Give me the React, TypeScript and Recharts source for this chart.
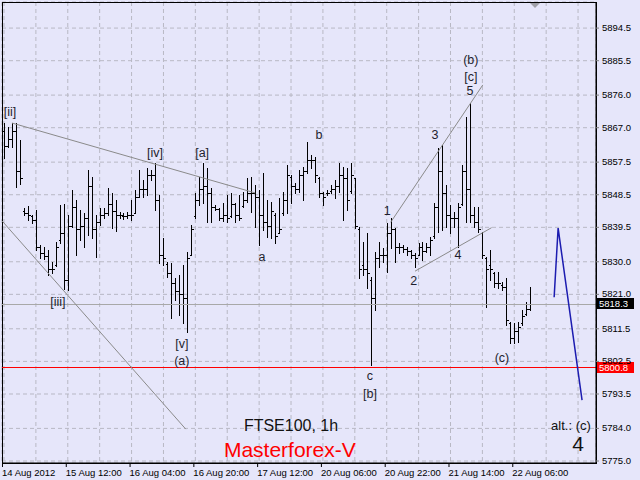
import { ComposedChart, Bar, Line, XAxis, YAxis, CartesianGrid, ReferenceLine, ReferenceDot, ReferenceArea } from "recharts"

// hourly FTSE100 bars (index 0 = 14 Aug 2012)
const highs = [
  5868.3, 5867.2, 5868.3, 5868.3, 5863.6, 5844.8, 5845.4, 5842.9, 5844.3, 5834.6,
  5834.1, 5833.2, 5829.9, 5835.4, 5845.6, 5845.9, 5842.9, 5849.8, 5847.0, 5844.3,
  5843.4, 5855.3, 5853.4, 5842.9, 5844.8, 5844.8, 5850.3, 5849.0, 5847.0, 5843.7,
  5843.4, 5843.7, 5847.0, 5849.8, 5855.3, 5852.5, 5855.9, 5855.3, 5857.2, 5848.4,
  5836.5, 5829.9, 5829.6, 5825.5, 5826.3, 5829.1, 5832.7, 5840.1, 5849.0, 5853.4,
  5857.2, 5855.9, 5850.3, 5845.6, 5844.8, 5846.2, 5848.4, 5849.0, 5846.2, 5848.4,
  5849.2, 5853.1, 5853.4, 5851.2, 5849.8, 5854.5, 5847.0, 5846.5, 5843.4, 5847.6,
  5849.2, 5856.7, 5853.9, 5851.7, 5855.3, 5856.1, 5863.0, 5859.5, 5858.9, 5853.4,
  5849.2, 5849.8, 5851.2, 5852.5, 5857.2, 5856.1, 5855.9, 5857.2, 5853.1, 5839.6,
  5835.4, 5837.9, 5825.8, 5832.7, 5835.4, 5833.8, 5840.7, 5842.1, 5839.3, 5835.2,
  5834.6, 5834.1, 5833.2, 5832.4, 5835.2, 5835.4, 5835.2, 5836.8, 5846.2, 5861.4,
  5862.2, 5851.2, 5845.6, 5843.7, 5846.2, 5856.7, 5869.9, 5873.8, 5845.1, 5845.1,
  5838.2, 5831.3, 5833.2, 5827.2, 5827.2, 5824.4, 5825.5, 5813.4, 5813.1, 5813.4,
  5816.7, 5818.9, 5823.0,
]
const lows = [
  5858.6, 5861.7, 5861.7, 5850.6, 5851.4, 5842.9, 5841.5, 5840.7, 5833.2, 5831.0,
  5830.7, 5826.3, 5826.9, 5828.8, 5835.2, 5822.5, 5822.2, 5839.6, 5831.8, 5836.0,
  5834.1, 5837.4, 5836.5, 5831.3, 5840.1, 5842.1, 5842.9, 5839.3, 5838.5, 5842.1,
  5841.8, 5842.1, 5841.5, 5843.4, 5847.8, 5847.8, 5848.4, 5852.5, 5844.3, 5829.6,
  5829.1, 5825.8, 5814.5, 5819.4, 5815.3, 5813.1, 5810.6, 5831.8, 5842.1, 5845.6,
  5846.2, 5841.0, 5841.0, 5844.3, 5841.5, 5841.2, 5841.0, 5842.3, 5841.0, 5841.5,
  5845.1, 5846.5, 5843.7, 5839.6, 5834.6, 5838.7, 5836.8, 5836.5, 5835.2, 5837.9,
  5842.9, 5843.4, 5846.2, 5849.0, 5849.2, 5847.0, 5854.5, 5855.9, 5852.0, 5847.8,
  5845.6, 5848.4, 5849.0, 5847.6, 5849.2, 5841.5, 5844.3, 5849.0, 5839.3, 5825.5,
  5826.3, 5822.7, 5801.5, 5816.7, 5828.5, 5829.9, 5827.2, 5833.8, 5829.9, 5832.4,
  5832.7, 5831.8, 5831.0, 5828.5, 5831.8, 5830.5, 5832.7, 5831.8, 5836.5, 5838.2,
  5838.8, 5839.6, 5837.9, 5839.6, 5834.1, 5845.6, 5841.0, 5841.0, 5839.6, 5838.2,
  5831.0, 5817.5, 5824.9, 5823.0, 5822.7, 5822.2, 5812.5, 5807.6, 5807.6, 5807.8,
  5812.5, 5815.3, 5816.7,
]
const opens = [
  5866, 5862, 5864, 5866, 5855, 5844, 5843.5, 5842.5, 5841.5, 5834,
  5832.5, 5831.5, 5828, 5829, 5836, 5838, 5825, 5840, 5845, 5839,
  5840, 5842, 5851, 5839, 5841, 5843, 5843.5, 5846, 5844, 5843,
  5842.5, 5842.5, 5843, 5843.5, 5848, 5850, 5850, 5854, 5854, 5847,
  5832, 5829.5, 5827, 5824, 5822, 5821, 5820, 5832, 5842.5, 5847,
  5850, 5851, 5849, 5845, 5844.5, 5842, 5843, 5842.5, 5846, 5843,
  5845.5, 5847, 5849, 5849, 5848, 5843, 5841, 5840, 5843, 5838,
  5843.5, 5847, 5853.5, 5851, 5850, 5854, 5855, 5858, 5858, 5853,
  5849, 5849, 5849.5, 5850, 5851, 5854, 5853, 5849.5, 5853, 5839,
  5829, 5828, 5825, 5820, 5831, 5832, 5832, 5838, 5839, 5834,
  5834, 5833.5, 5833, 5832, 5832, 5834, 5833, 5834, 5837, 5845,
  5855, 5849, 5843, 5842, 5842, 5846, 5855, 5850, 5843, 5841,
  5838, 5831, 5829, 5827, 5824, 5823.5, 5823, 5813, 5809, 5811,
  5813, 5815.5, 5817,
]
const closes = [
  5862, 5864, 5866, 5855, 5853, 5843.5, 5843, 5841.5, 5834, 5832.5,
  5831.5, 5828, 5828, 5834, 5838, 5825, 5840, 5845, 5839, 5840,
  5842, 5851, 5839, 5841, 5843, 5843.5, 5846, 5844, 5843, 5843,
  5842.5, 5843, 5843, 5848, 5850, 5850, 5854, 5854, 5847, 5832,
  5831, 5827, 5824, 5822, 5821, 5820, 5831, 5839, 5847, 5850,
  5851, 5849, 5845, 5844.5, 5842, 5843, 5842, 5846, 5843, 5842,
  5847, 5849, 5849, 5848, 5843, 5841, 5840, 5844, 5837, 5839,
  5847, 5854, 5851, 5850, 5854, 5855, 5858, 5858, 5854, 5849,
  5848, 5849, 5850, 5851, 5854, 5853, 5847, 5854, 5840, 5828,
  5828, 5827, 5820, 5831, 5832, 5832, 5838, 5839, 5834, 5834,
  5833.5, 5833, 5832, 5831, 5834, 5833, 5834, 5836, 5845, 5855,
  5849, 5843, 5842, 5842, 5845, 5855, 5850, 5843, 5841, 5839,
  5832, 5828, 5828, 5824, 5824, 5823, 5814, 5809, 5811, 5812,
  5815, 5817, 5818.3,
]

// blue projection drawn to the right of the last bar
const projIndex = [138, 139, 145]
const projPrice = [5820.2, 5839.3, 5791.8]

const timeLabels = [
  "14 Aug 2012", "15 Aug 12:00", "16 Aug 04:00", "16 Aug 20:00", "17 Aug 12:00",
  "20 Aug 06:00", "20 Aug 22:00", "21 Aug 14:00", "22 Aug 06:00",
]
const priceTicks = [
  5775.0, 5784.0, 5793.5, 5802.5, 5811.5, 5821.0, 5830.0,
  5839.5, 5848.5, 5857.5, 5867.0, 5876.0, 5885.5, 5894.5,
]
const bidPrice = 5818.3
const levelPrice = 5800.8

// wave counts: [text, bar index, price]
const waveLabels: [string, number, number][] = [
  ["[ii]", 1.5, 5871.3], ["[iii]", 13.5, 5818.9], ["[iv]", 37.9, 5860.0],
  ["[v]", 44.6, 5807.3], ["(a)", 44.6, 5802.6], ["[a]", 49.7, 5860.0],
  ["a", 64.7, 5831.3], ["b", 79.0, 5865.0], ["c", 91.8, 5798.5], ["[b]", 91.8, 5793.5],
  ["1", 96.1, 5844.0], ["2", 102.8, 5824.7], ["3", 108.1, 5865.0], ["4", 113.9, 5831.9],
  ["5", 116.9, 5877.1], ["[c]", 117.1, 5881.0], ["(b)", 117.1, 5885.7], ["(c)", 124.9, 5803.4],
]

// trend lines: [fromIndex, fromPrice, toIndex, toPrice]
const trendLines = [
  [2, 5868.3, 63, 5849.0],
  [-0.5, 5841.3, 45.6, 5783.8],
  [97, 5840.9, 120.1, 5878.8],
  [103.1, 5827.4, 122.3, 5839.4],
]

const SLOTS = 149
const Y_MIN = 5774.45
const Y_MAX = 5901.7
const FONT = "'Liberation Sans', Arial, sans-serif"

const rows = Array.from({ length: SLOTS }, (_, i) => {
  const p = projIndex.indexOf(i)
  return {
    i,
    h: highs[i],
    l: lows[i],
    o: opens[i],
    c: closes[i],
    proj: p >= 0 ? projPrice[p] : null,
  }
})

function OhlcBar(props: any) {
  const { x, y, width, height, payload } = props
  if (!payload || payload.h == null) return <g />
  const cx = Math.round(x + width / 2) + 0.5
  const span = payload.h - payload.l || 1
  const py = (v: number) => Math.round(y + ((payload.h - v) / span) * height) + 0.5
  return (
    <g stroke="#000" strokeWidth={1} shapeRendering="crispEdges">
      <line x1={cx} x2={cx} y1={Math.round(y)} y2={Math.round(y + height) + 1} />
      <line x1={cx - 2} x2={cx} y1={py(payload.o)} y2={py(payload.o)} />
      <line x1={cx} x2={cx + 2} y1={py(payload.c)} y2={py(payload.c)} />
    </g>
  )
}

function PriceTick(props: any) {
  const { x, y, payload } = props
  return (
    <text x={x} y={y} dy={3} fontSize={9.5} fontFamily={FONT} fill="#000" textAnchor="start">
      {payload.value.toFixed(1)}
    </text>
  )
}

function TimeTick(props: any) {
  const { x, payload } = props
  const k = payload.value / 16
  if (!Number.isInteger(k) || !timeLabels[k]) return <g />
  return (
    <g>
      <line x1={x - 1.5} x2={x - 1.5} y1={463} y2={467} stroke="#000" />
      <text x={x - 2} y={476} fontSize={9.5} fontFamily={FONT} fill="#000" textAnchor="start">
        {timeLabels[k]}
      </text>
    </g>
  )
}

const priceTag = (value: number, bg: string) => (props: any) => {
  const vb = props.viewBox
  const left = vb.x + vb.width + 1
  const top = Math.round(vb.y) - 6
  return (
    <g>
      <rect x={left} y={top} width={37} height={11} fill={bg} shapeRendering="crispEdges" />
      <text x={left + 2} y={top + 9} fontSize={9.5} fontFamily={FONT} fill="#fff">
        {value.toFixed(1)}
      </text>
    </g>
  )
}

const textShape = (text: string, size: number, color: string, anchor = "middle") => (p: any) => (
  <text x={p.cx} y={p.cy} fontSize={size} fontFamily={FONT} fill={color} textAnchor={anchor} dominantBaseline="central">
    {text}
  </text>
)

export default function App() {
  return (
    <div style={{ position: "absolute", left: 0, top: 0, width: 640, height: 480, background: "#E6E6FA" }}>
      <ComposedChart width={640} height={480} data={rows} margin={{ top: 2, right: 0, bottom: 0, left: 2 }}>
        <CartesianGrid stroke="#B8B8C4" strokeDasharray="4 3" />
        <XAxis
          dataKey="i"
          interval={0}
          ticks={[0, 8, 16, 24, 32, 40, 48, 56, 64, 72, 80, 88, 96, 104, 112, 120, 128, 136, 144]}
          tick={<TimeTick />}
          tickLine={false}
          axisLine={{ stroke: "#000" }}
          height={17}
        />
        <XAxis xAxisId="n" type="number" dataKey="i" domain={[-0.5, SLOTS - 0.5]} allowDataOverflow hide />
        <YAxis
          orientation="right"
          domain={[Y_MIN, Y_MAX]}
          ticks={priceTicks}
          interval={0}
          allowDataOverflow
          width={44}
          tick={<PriceTick />}
          tickSize={3}
          tickMargin={3}
          tickLine={{ stroke: "#808080" }}
          axisLine={{ stroke: "#000" }}
        />
        <ReferenceLine
          y={bidPrice}
          stroke="#A8A8A8"
          strokeWidth={1}
          shapeRendering="crispEdges"
          label={priceTag(bidPrice, "#000")}
        />
        <ReferenceLine
          y={levelPrice}
          stroke="#FF0000"
          strokeWidth={1}
          shapeRendering="crispEdges"
          label={priceTag(levelPrice, "#FF0000")}
        />
        {trendLines.map((t, k) => (
          <ReferenceLine
            key={k}
            xAxisId="n"
            ifOverflow="visible"
            segment={[{ x: t[0], y: t[1] }, { x: t[2], y: t[3] }]}
            stroke="#8A8A8A"
          />
        ))}
        <Bar dataKey={(d: any) => (d.h == null ? null : [d.l, d.h])} shape={<OhlcBar />} isAnimationActive={false} />
        <Line
          dataKey="proj"
          stroke="#1C1CB0"
          strokeWidth={1.5}
          dot={false}
          connectNulls
          isAnimationActive={false}
        />
        {waveLabels.map(([t, i, p]) => (
          <ReferenceDot key={t + i} xAxisId="n" x={i} y={p} ifOverflow="visible" shape={textShape(t, 12.5, "#1E1E2E")} />
        ))}
        <ReferenceDot xAxisId="n" x={72} y={5784.7} ifOverflow="visible" shape={textShape("FTSE100, 1h", 16, "#111")} />
        <ReferenceDot xAxisId="n" x={71.7} y={5778.3} ifOverflow="visible" shape={textShape("Masterforex-V", 21, "#FF0000")} />
        <ReferenceDot xAxisId="n" x={147.2} y={5784.7} ifOverflow="visible" shape={textShape("alt.: (c)", 13, "#111", "end")} />
        <ReferenceDot xAxisId="n" x={144} y={5779.7} ifOverflow="visible" shape={textShape("4", 21, "#111")} />
        <ReferenceDot
          xAxisId="n"
          x={133.2}
          y={Y_MAX}
          ifOverflow="visible"
          shape={(p: any) => (
            <polygon points={`${p.cx - 5},${p.cy + 1} ${p.cx + 5},${p.cy + 1} ${p.cx},${p.cy + 6}`} fill="#A0A0A8" />
          )}
        />
        <ReferenceArea
          xAxisId="n"
          x1={-0.5}
          x2={SLOTS - 0.5}
          y1={Y_MIN}
          y2={Y_MAX}
          fill="none"
          stroke="#000"
          shapeRendering="crispEdges"
        />
      </ComposedChart>
    </div>
  )
}
